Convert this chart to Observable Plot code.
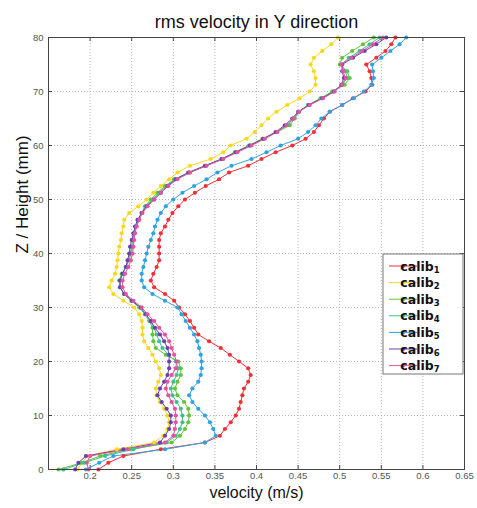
<!DOCTYPE html>
<html>
<head>
<meta charset="utf-8">
<script src="https://cdn.jsdelivr.net/npm/d3@7"></script>
<script src="https://cdn.jsdelivr.net/npm/@observablehq/plot@0.6"></script>
<style>
  html, body { margin: 0; padding: 0; background: #fff; }
  #chart { width: 477px; height: 508px; }
</style>
</head>
<body>
<div id="chart"></div>
<script>
// Heights (mm) at which the rms velocity was sampled
const heights = [0, 1.25, 2.5, 3.75, 5, 6.25, 7.5, 8.75, 10, 11.25, 12.5, 13.75, 15, 16.25, 17.5, 18.75,
  20, 21.25, 22.5, 23.75, 25, 26.25, 27.5, 28.75, 30, 31.25, 32.5, 33.75, 35, 36.25, 37.5, 38.75,
  40, 41.25, 42.5, 43.75, 45, 46.25, 47.5, 48.75, 50, 51.25, 52.5, 53.75, 55, 56.25, 57.5, 58.75,
  60, 61.25, 62.5, 63.75, 65, 66.25, 67.5, 68.75, 70, 71.25, 72.5, 73.75, 75, 76.25, 77.5, 78.75, 80];

const seriesNames = ["calib1", "calib2", "calib3", "calib4", "calib5", "calib6", "calib7"];
const seriesColors = ["#f42f36", "#f7d81c", "#62c43a", "#3ebf8d", "#2fa2e2", "#6a3fb2", "#e5519f"];

// rms velocity (m/s), one value per height
const calib1 = [0.210, 0.222, 0.240, 0.285, 0.338, 0.356, 0.362, 0.369, 0.375, 0.379, 0.381, 0.383, 0.385, 0.390, 0.393, 0.390,
  0.379, 0.368, 0.357, 0.343, 0.330, 0.325, 0.320, 0.314, 0.307, 0.301, 0.290, 0.277, 0.273, 0.276, 0.280, 0.283,
  0.283, 0.283, 0.283, 0.285, 0.290, 0.294, 0.299, 0.306, 0.314, 0.326, 0.339, 0.355, 0.367, 0.390, 0.406, 0.423,
  0.443, 0.459, 0.469, 0.475, 0.481, 0.488, 0.503, 0.516, 0.531, 0.539, 0.538, 0.536, 0.532, 0.544, 0.555, 0.562, 0.567];

const calib2 = [0.185, 0.190, 0.197, 0.232, 0.277, 0.288, 0.293, 0.295, 0.293, 0.289, 0.284, 0.280, 0.279, 0.282, 0.285, 0.283,
  0.279, 0.275, 0.270, 0.265, 0.263, 0.263, 0.262, 0.259, 0.253, 0.240, 0.228, 0.223, 0.226, 0.230, 0.232, 0.233,
  0.234, 0.235, 0.237, 0.238, 0.240, 0.241, 0.247, 0.258, 0.268, 0.276, 0.285, 0.295, 0.305, 0.320, 0.345, 0.360,
  0.369, 0.388, 0.398, 0.406, 0.414, 0.424, 0.437, 0.452, 0.464, 0.471, 0.471, 0.469, 0.465, 0.469, 0.479, 0.490, 0.498];

const calib3 = [0.162, 0.190, 0.212, 0.248, 0.298, 0.308, 0.314, 0.318, 0.319, 0.318, 0.313, 0.305, 0.302, 0.305, 0.309, 0.309,
  0.306, 0.291, 0.279, 0.276, 0.275, 0.275, 0.271, 0.266, 0.259, 0.250, 0.241, 0.236, 0.235, 0.238, 0.243, 0.247,
  0.249, 0.251, 0.252, 0.253, 0.255, 0.258, 0.262, 0.266, 0.273, 0.281, 0.290, 0.301, 0.320, 0.339, 0.358, 0.374,
  0.391, 0.407, 0.425, 0.440, 0.446, 0.451, 0.462, 0.477, 0.491, 0.506, 0.512, 0.509, 0.500, 0.503, 0.515, 0.528, 0.541];

const calib4 = [0.168, 0.193, 0.218, 0.252, 0.292, 0.303, 0.308, 0.311, 0.311, 0.309, 0.304, 0.299, 0.297, 0.300, 0.304, 0.306,
  0.303, 0.294, 0.287, 0.283, 0.280, 0.277, 0.272, 0.266, 0.260, 0.250, 0.241, 0.236, 0.236, 0.239, 0.243, 0.246,
  0.248, 0.250, 0.251, 0.253, 0.255, 0.258, 0.262, 0.267, 0.275, 0.283, 0.292, 0.302, 0.319, 0.339, 0.359, 0.376,
  0.392, 0.409, 0.424, 0.437, 0.445, 0.451, 0.462, 0.478, 0.492, 0.503, 0.509, 0.507, 0.502, 0.511, 0.524, 0.536, 0.548];

const calib5 = [0.195, 0.211, 0.228, 0.290, 0.338, 0.351, 0.348, 0.344, 0.338, 0.330, 0.323, 0.319, 0.323, 0.330, 0.333, 0.334,
  0.334, 0.333, 0.331, 0.329, 0.325, 0.320, 0.315, 0.310, 0.305, 0.290, 0.275, 0.265, 0.262, 0.262, 0.264, 0.266,
  0.268, 0.270, 0.273, 0.276, 0.278, 0.281, 0.285, 0.291, 0.300, 0.311, 0.325, 0.340, 0.353, 0.370, 0.394, 0.412,
  0.429, 0.450, 0.462, 0.471, 0.478, 0.488, 0.503, 0.517, 0.529, 0.538, 0.541, 0.540, 0.539, 0.550, 0.561, 0.572, 0.580];

const calib6 = [0.182, 0.186, 0.195, 0.240, 0.284, 0.290, 0.295, 0.297, 0.297, 0.292, 0.286, 0.281, 0.284, 0.289, 0.293, 0.295,
  0.295, 0.295, 0.293, 0.289, 0.284, 0.278, 0.273, 0.267, 0.261, 0.250, 0.241, 0.236, 0.236, 0.239, 0.243, 0.245,
  0.247, 0.248, 0.250, 0.252, 0.254, 0.257, 0.262, 0.268, 0.277, 0.285, 0.293, 0.303, 0.318, 0.338, 0.358, 0.375,
  0.392, 0.408, 0.423, 0.434, 0.443, 0.450, 0.463, 0.479, 0.493, 0.502, 0.505, 0.503, 0.503, 0.516, 0.530, 0.544, 0.556];

const calib7 = [0.198, 0.196, 0.200, 0.245, 0.290, 0.300, 0.302, 0.303, 0.303, 0.302, 0.298, 0.294, 0.291, 0.293, 0.298, 0.303,
  0.304, 0.301, 0.298, 0.295, 0.290, 0.283, 0.277, 0.269, 0.262, 0.252, 0.243, 0.239, 0.239, 0.242, 0.246, 0.249,
  0.251, 0.252, 0.253, 0.254, 0.256, 0.259, 0.263, 0.269, 0.277, 0.285, 0.294, 0.305, 0.320, 0.340, 0.360, 0.377,
  0.394, 0.410, 0.425, 0.436, 0.444, 0.451, 0.464, 0.480, 0.494, 0.503, 0.507, 0.504, 0.502, 0.514, 0.527, 0.540, 0.552];

const xTicks = [0.2, 0.25, 0.3, 0.35, 0.4, 0.45, 0.5, 0.55, 0.6, 0.65];
const yTicks = [0, 10, 20, 30, 40, 50, 60, 70, 80];

const titleText = "rms velocity in Y direction";
const xLabel = "velocity (m/s)";
const yLabel = "Z / Height (mm)";

// Long-format table: one row per sample
const allSeries = [calib1, calib2, calib3, calib4, calib5, calib6, calib7];
const rows = [];
allSeries.forEach((vals, i) => {
  vals.forEach((v, j) => rows.push({series: seriesNames[i], v, z: heights[j]}));
});

const W = 477, H = 508;
const mL = 48, mR = 13, mT = 37, mB = 39;
const frameW = W - mL - mR, frameH = H - mT - mB;
const tickLen = 4;
const gridStyle = {stroke: "#b5b5b5", strokeOpacity: 1, strokeDasharray: "1,2", strokeWidth: 1};
const tickColor = "#444";

const chart = Plot.plot({
  width: W,
  height: H,
  marginLeft: mL,
  marginRight: mR,
  marginTop: mT,
  marginBottom: mB,
  x: {domain: [0.15, 0.65]},
  y: {domain: [0, 80]},
  color: {domain: seriesNames, range: seriesColors},
  style: {fontFamily: "'Liberation Sans', Arial, sans-serif", background: "#fff", overflow: "visible"},
  marks: [
    Plot.gridX(xTicks, gridStyle),
    Plot.gridY(yTicks, gridStyle),
    // inward ticks on all four sides of the box
    Plot.ruleX(xTicks, {x: d => d, insetTop: frameH - tickLen, stroke: tickColor}),
    Plot.ruleX(xTicks, {x: d => d, insetBottom: frameH - tickLen, stroke: tickColor}),
    Plot.ruleY(yTicks, {y: d => d, insetRight: frameW - tickLen, stroke: tickColor}),
    Plot.ruleY(yTicks, {y: d => d, insetLeft: frameW - tickLen, stroke: tickColor}),
    Plot.axisX(xTicks, {tickSize: 0, tickPadding: 3, fontSize: 9.5, fill: "#555", label: null,
      tickFormat: d => String(+d.toFixed(2))}),
    Plot.axisY(yTicks, {tickSize: 0, tickPadding: 5, fontSize: 9.5, fill: "#555", label: null}),
    Plot.line(rows, {x: "v", y: "z", z: "series", stroke: "series", strokeWidth: 1}),
    Plot.dot(rows, {x: "v", y: "z", fill: "series", r: 2.1}),
    Plot.frame({stroke: "#444"}),
    Plot.text([titleText], {frameAnchor: "top", lineAnchor: "middle", dy: -15, fontSize: 18, fill: "#111"}),
    Plot.text([xLabel], {frameAnchor: "bottom", lineAnchor: "middle", dy: 23, fontSize: 16, fill: "#111"}),
    Plot.text([yLabel], {frameAnchor: "left", lineAnchor: "middle", dx: -26, rotate: -90, fontSize: 17, fill: "#111"})
  ]
});

document.getElementById("chart").appendChild(chart);

// Legend box in the lower right of the plot area
const svg = d3.select(chart);
const lg = svg.append("g").attr("transform", "translate(383,254)");
lg.append("rect").attr("width", 80).attr("height", 120)
  .attr("fill", "#fff").attr("stroke", "#777").attr("stroke-width", 1);
seriesNames.forEach((name, i) => {
  const y = 12 + i * 16.6;
  const row = lg.append("g").attr("transform", `translate(0,${y})`);
  row.append("line").attr("x1", 6).attr("x2", 34).attr("y1", 0).attr("y2", 0)
    .attr("stroke", seriesColors[i]).attr("stroke-width", 1);
  row.append("circle").attr("cx", 20).attr("cy", 0).attr("r", 2.1).attr("fill", seriesColors[i]);
  const t = row.append("text").attr("x", 37).attr("y", 4.5)
    .attr("font-family", "'DejaVu Sans', sans-serif").attr("font-weight", "bold")
    .attr("font-size", 12.5).attr("fill", "#111");
  t.append("tspan").text(name.replace(/\d+$/, ""));
  t.append("tspan").attr("font-size", 8.5).attr("dy", 2).text(name.match(/\d+$/)[0]);
});
</script>
</body>
</html>
